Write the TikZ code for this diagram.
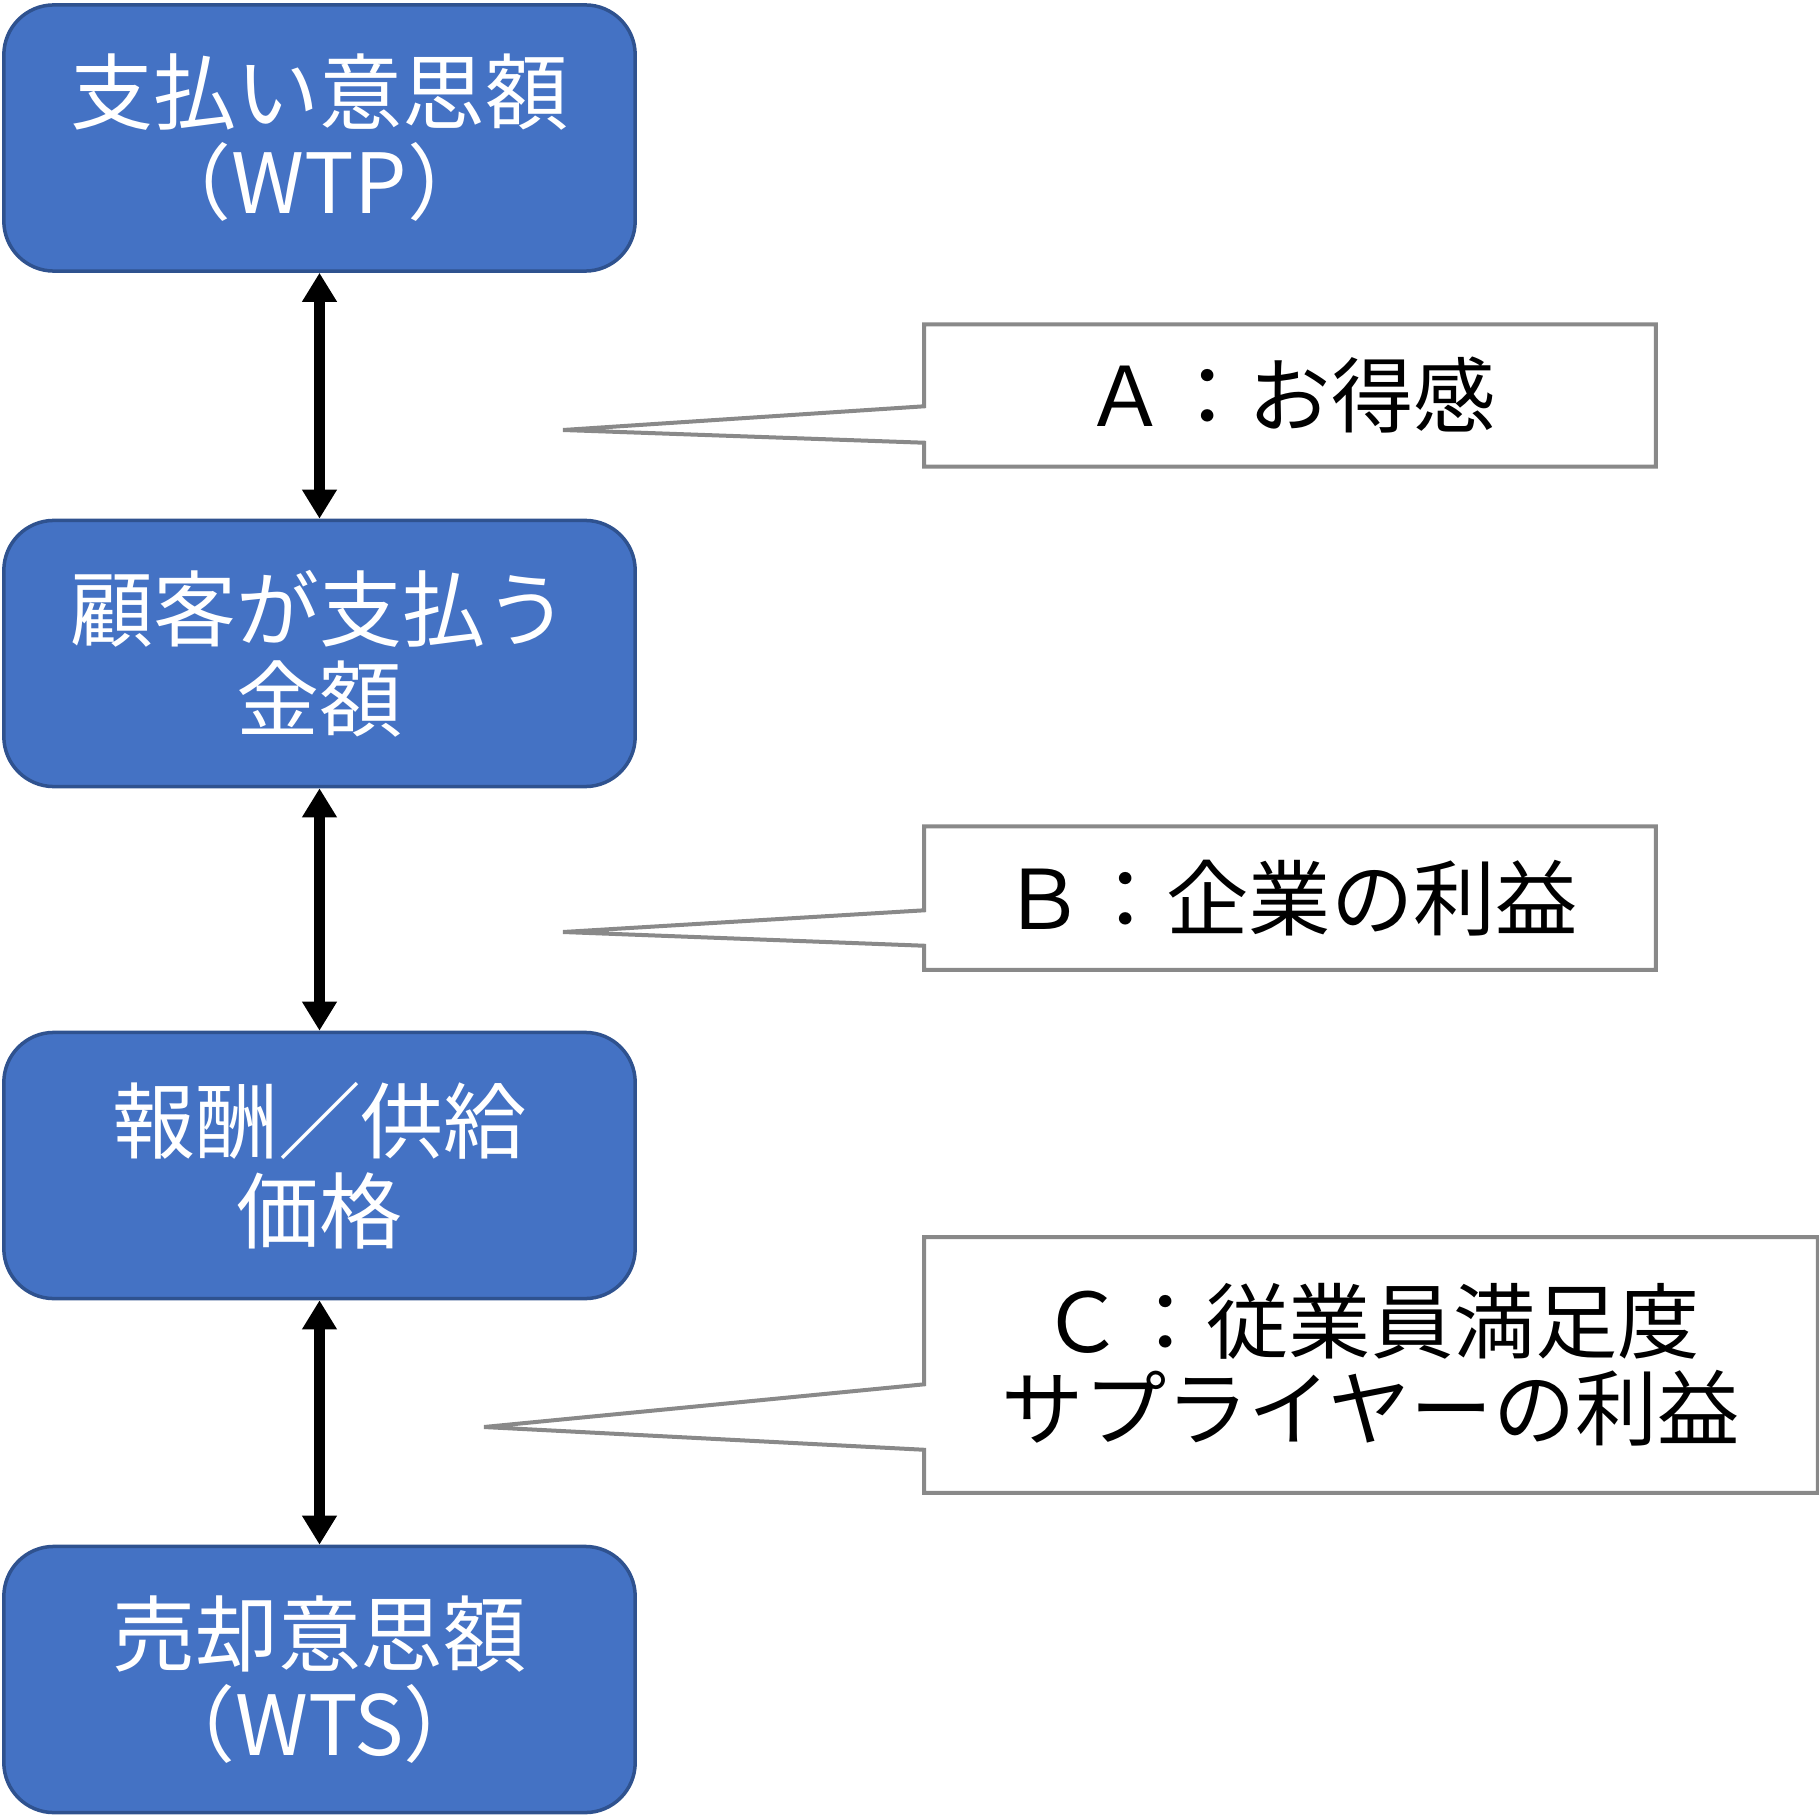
\documentclass[tikz,border=0pt]{standalone}
\usepackage{fontspec}
\setmainfont{Noto Sans CJK JP}
\usetikzlibrary{arrows.meta}
\definecolor{boxblue}{HTML}{4472C4}
\definecolor{boxedge}{HTML}{2F528F}
\definecolor{notegray}{HTML}{898989}

\begin{document}
\begin{tikzpicture}[x=0.01cm,y=-0.01cm,
  price/.style={draw=boxedge,line width=0.035cm,fill=boxblue,rounded corners=0.5cm,
    minimum width=6.31cm,minimum height=2.66cm,text=white,align=center,
    font=\fontsize{23.6}{25.6}\selectfont,inner sep=0pt},
  note/.style={align=center,font=\fontsize{23.4}{24.7}\selectfont,inner sep=0pt},
  noteline/.style={draw=notegray,line width=0.04cm},
  link/.style={line width=0.11cm,{Triangle[width=0.33cm,length=0.29cm]}-{Triangle[width=0.33cm,length=0.29cm]}}]
 \useasboundingbox (0,0) rectangle (1819,1819);
 % price levels
 \node[price] (wtp) at (319.5,138) {支払い意思額\\（WTP）};
 \node[price] (paid) at (319.5,653.5) {顧客が支払う\\金額};
 \node[price] (cost) at (319.5,1165.5) {報酬／供給\\価格};
 \node[price] (wts) at (319.5,1679.5) {売却意思額\\（WTS）};
 \draw[link] (wtp) -- (paid);
 \draw[link] (paid) -- (cost);
 \draw[link] (cost) -- (wts);
 % callouts
 \node[note,minimum width=7.3cm,minimum height=1.41cm] (gain) at (1290,395.5) {Ａ：お得感};
 \coordinate (gaintip) at (563,430);
 \draw[noteline] (gain.north west) -- (gain.north east) -- (gain.south east) -- (gain.south west)
   -- ([yshift=0.24cm]gain.south west) -- (gaintip) -- ([yshift=-0.82cm]gain.north west) -- cycle;
 \node[note,minimum width=7.3cm,minimum height=1.42cm] (profit) at (1290,898) {Ｂ：企業の利益};
 \coordinate (profittip) at (563,932);
 \draw[noteline] (profit.north west) -- (profit.north east) -- (profit.south east) -- (profit.south west)
   -- ([yshift=0.24cm]profit.south west) -- (profittip) -- ([yshift=-0.84cm]profit.north west) -- cycle;
 \node[note,minimum width=8.92cm,minimum height=2.54cm] (staff) at (1371,1365) {Ｃ：従業員満足度\\サプライヤーの利益};
 \coordinate (stafftip) at (484,1427);
 \draw[noteline] (staff.north west) -- (staff.north east) -- (staff.south east) -- (staff.south west)
   -- ([yshift=0.43cm]staff.south west) -- (stafftip) -- ([yshift=-1.47cm]staff.north west) -- cycle;
\end{tikzpicture}
\end{document}
